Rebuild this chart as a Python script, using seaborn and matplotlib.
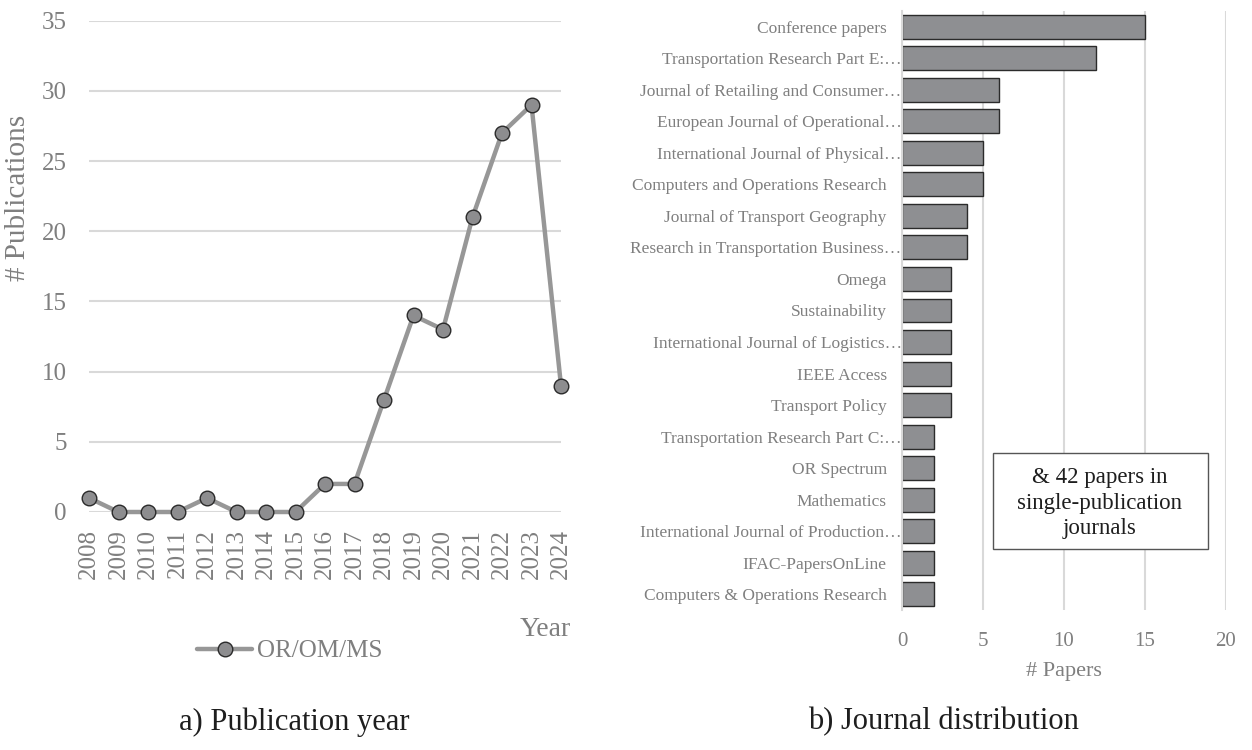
import matplotlib
matplotlib.use("Agg")
import matplotlib.pyplot as plt
import matplotlib.transforms as mtransforms
import matplotlib.patches as mpatches
import seaborn as sns
import pandas as pd

# ---------------- data ----------------
years = [2008, 2009, 2010, 2011, 2012, 2013, 2014, 2015, 2016,
         2017, 2018, 2019, 2020, 2021, 2022, 2023, 2024]
publications = [1, 0, 0, 0, 1, 0, 0, 0, 2, 2, 8, 14, 13, 21, 27, 29, 9]
series_name = "OR/OM/MS"

journals = [
    "Conference papers",
    "Transportation Research Part E:…",
    "Journal of Retailing and Consumer…",
    "European Journal of Operational…",
    "International Journal of Physical…",
    "Computers and Operations Research",
    "Journal of Transport Geography",
    "Research in Transportation Business…",
    "Omega",
    "Sustainability",
    "International Journal of Logistics…",
    "IEEE Access",
    "Transport Policy",
    "Transportation Research Part C:…",
    "OR Spectrum",
    "Mathematics",
    "International Journal of Production…",
    "IFAC-PapersOnLine",
    "Computers & Operations Research",
]
papers = [15, 12, 6, 6, 5, 5, 4, 4, 3, 3, 3, 3, 3, 2, 2, 2, 2, 2, 2]

y_ticks_left = [0, 5, 10, 15, 20, 25, 30, 35]
x_ticks_right = [0, 5, 10, 15, 20]
note_text = "& 42 papers in\nsingle-publication\njournals"

# ---------------- style ----------------
sns.set_style("white")
plt.rcParams["font.family"] = ["Liberation Serif", "DejaVu Serif"]

TICK = "#7f7f7f"
GRID = "#d9d9d9"
DARK = "#1e1e1e"

W, H = 1252, 750
fig = plt.figure(figsize=(W / 100, H / 100), dpi=100)

def fx(px):
    return px / W

def fy(py):
    return 1 - py / H

# ---------------- left: line chart ----------------
axL = fig.add_axes([fx(89), fy(512), fx(561 - 89), (512 - 20.7) / H])
df_year = pd.DataFrame({"Year": years, "Publications": publications})
sns.lineplot(data=df_year, x="Year", y="Publications", ax=axL,
             color="#979797", linewidth=3.2, marker="o", markersize=10.5,
             markerfacecolor="#8d8d8f", markeredgecolor="#2a2a2a",
             markeredgewidth=1.0, label=series_name, clip_on=False, zorder=3)
axL.set_xlim(years[0], years[-1])
axL.set_ylim(0, 35)
axL.set_xticks(years)
axL.set_xticklabels([str(y) for y in years], rotation=90, fontsize=18, color=TICK)
axL.set_yticks(y_ticks_left)
axL.set_yticklabels([str(v) for v in y_ticks_left], fontsize=18, color=TICK)
axL.tick_params(axis="x", length=0, pad=12)
axL.tick_params(axis="y", length=0, pad=16)
axL.grid(axis="y", color=GRID, linewidth=1.5)
axL.grid(axis="x", visible=False)
for s in axL.spines.values():
    s.set_visible(False)
axL.set_xlabel("")
axL.set_ylabel("")
fig.text(fx(18), fy(198), "# Publications", rotation=90, ha="center", va="center",
         fontsize=21, color=TICK)
fig.text(fx(571), fy(630), "Year", ha="right", va="center", fontsize=20, color=TICK)
axL.legend(loc="center", bbox_to_anchor=(fx(290), fy(651)),
           bbox_transform=fig.transFigure, frameon=False, fontsize=18,
           handlelength=2.2, handletextpad=0.2, labelcolor=TICK)

# ---------------- right: bar chart ----------------
axR = fig.add_axes([fx(902), fy(610), fx(1226 - 902), (610 - 11) / H])
df_j = pd.DataFrame({"Journal": journals, "Papers": papers})
sns.barplot(data=df_j, x="Papers", y="Journal", orient="h", ax=axR,
            color="#8e8f92", saturation=1, edgecolor="#2b2b2b", linewidth=1.0,
            width=0.76, zorder=3)
axR.set_xlim(0, 20)
axR.set_ylim(len(journals) - 0.5, -0.5)
axR.set_xticks(x_ticks_right)
axR.set_xticklabels([str(v) for v in x_ticks_right], fontsize=15, color=TICK)
axR.tick_params(axis="x", length=0, pad=16)
axR.tick_params(axis="y", length=0, pad=11)
axR.set_yticks(range(len(journals)))
axR.set_yticklabels(journals, fontsize=12.5, color=TICK)
shift = mtransforms.ScaledTranslation(15 / 100, 0, fig.dpi_scale_trans)
for lab in axR.get_yticklabels():
    if lab.get_text().endswith("…"):
        lab.set_transform(lab.get_transform() + shift)
axR.grid(axis="x", color=GRID, linewidth=1.5)
axR.grid(axis="y", visible=False)
for name, s in axR.spines.items():
    s.set_visible(name == "left")
axR.spines["left"].set_color(GRID)
axR.spines["left"].set_linewidth(1.5)
axR.spines["left"].set_zorder(4)
axR.set_ylabel("")
axR.set_xlabel("# Papers", fontsize=16, color=TICK, labelpad=8)

# note box
rect = mpatches.Rectangle((fx(993), fy(549)), fx(1208 - 993), (549 - 453) / H,
                          transform=fig.transFigure, facecolor="white",
                          edgecolor="#555555", linewidth=1.0, zorder=5)
fig.patches.append(rect)
fig.text(fx(1100), fy(503), note_text, ha="center", va="center", fontsize=16.5,
         color=DARK, linespacing=1.27, zorder=6)

# ---------------- captions ----------------
fig.text(fx(294), fy(722), "a) Publication year", ha="center", va="center",
         fontsize=22, color=DARK)
fig.text(fx(943), fy(722), "b) Journal distribution", ha="center", va="center",
         fontsize=22, color=DARK)

fig.savefig("out.png", dpi=100)
